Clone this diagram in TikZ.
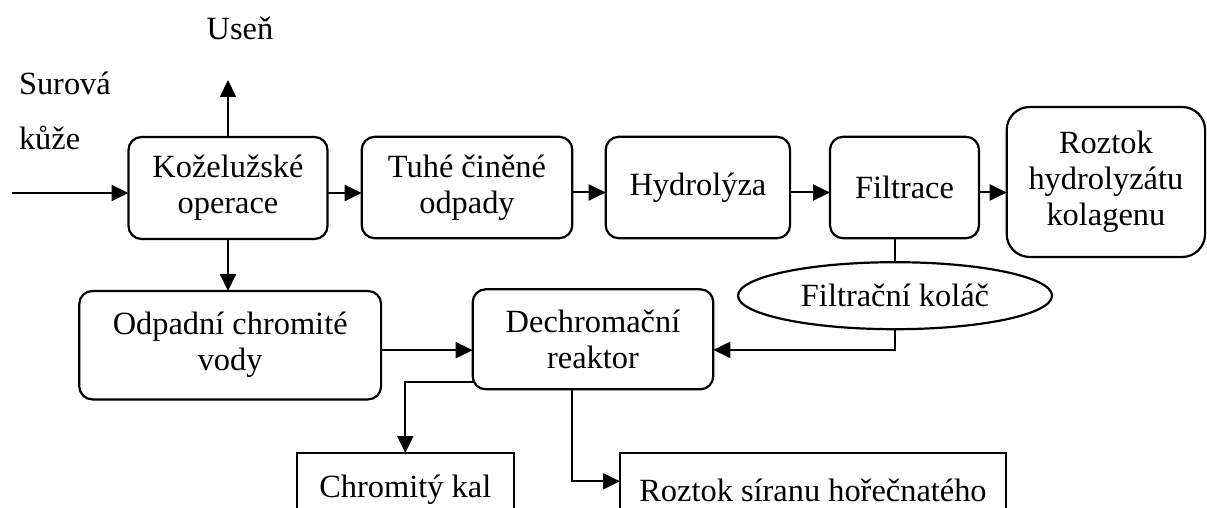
\documentclass[tikz,border=0pt]{standalone}
\usepackage{fontspec}
\setmainfont{Liberation Serif}
\usetikzlibrary{arrows.meta,shapes.geometric}

\begin{document}
\begin{tikzpicture}[x=0.5pt,y=-0.5pt,
  every node/.style={align=center, inner sep=0pt, outer sep=0pt, font=\fontsize{16.2}{18}\selectfont},
  box/.style={draw, line width=1.1pt, rounded corners=6.5pt},
  sqbox/.style={draw, line width=1.1pt},
  arr/.style={-{Triangle[length=8.5pt,width=8pt]}, line width=1pt}]
\useasboundingbox (0,0) rectangle (1207,508);
\clip (0,0) rectangle (1207,508);

\node[anchor=base] (usen) at (240,40) {Useň};
\node[anchor=base west] (surova) at (19,95) {Surová};
\node[anchor=base west] (kuze) at (19,150) {kůže};

\node[box, minimum width=99.5pt, minimum height=51pt] (koz) at (228,188) {Koželužské\\operace};
\node[box, minimum width=105.3pt, minimum height=50.7pt] (tuhe) at (467,187.5) {Tuhé činěné\\odpady};
\node[box, minimum width=92.2pt, minimum height=50.7pt] (hydro) at (697.9,187.5) {Hydrolýza};
\node[box, minimum width=74.5pt, minimum height=50.7pt] (filtr) at (904.5,187.5) {Filtrace};
\node[box, rounded corners=11.5pt, minimum width=99.2pt, minimum height=75pt] (roztok) at (1105.9,182) {Roztok\\hydrolyzátu\\kolagenu};
\node[draw, ellipse, line width=1.1pt, minimum width=157pt, minimum height=33.5pt] (kolac) at (895,295.7) {Filtrační koláč};
\node[box, minimum width=150.9pt, minimum height=54.2pt] (odpad) at (230.2,345.2) {Odpadní chromité\\vody};
\node[box, minimum width=120.3pt, minimum height=50pt] (dechrom) at (593,339.3) {Dechromační\\reaktor};
\node[sqbox, minimum width=108.3pt, minimum height=37pt] (kal) at (405.3,490) {Chromitý kal};
\node[sqbox, minimum width=193pt, minimum height=37pt] (siran) at (813,490) {Roztok síranu hořečnatého};

\coordinate (vstup) at (11.7,193);
\coordinate (usenpt) at (228,80);

\draw[arr] (vstup) -- (vstup -| koz.west);
\draw[arr] (koz.north) -- (usenpt);
\draw[arr] ([yshift=-2.5pt]koz.east) -- ([yshift=-2.5pt]koz.east -| tuhe.west);
\draw[arr] ([yshift=-2.5pt]tuhe.east) -- ([yshift=-2.5pt]tuhe.east -| hydro.west);
\draw[arr] ([yshift=-2.5pt]hydro.east) -- ([yshift=-2.5pt]hydro.east -| filtr.west);
\draw[arr] ([yshift=-2.5pt]filtr.east) -- ([yshift=-2.5pt]filtr.east -| roztok.west);
\draw[arr] (koz.south) -- (koz.south |- odpad.north);
\draw[line width=1pt] (kolac.north) -- (kolac.north |- filtr.south);
\draw[arr] (kolac.south) |- ([yshift=-5.3pt]dechrom.east);
\draw[arr] ([yshift=-2.5pt]odpad.east) -- ([yshift=-2.5pt]odpad.east -| dechrom.west);
\draw[arr] ([yshift=-21.2pt]dechrom.west) -| (kal.north);
\draw[arr] ([xshift=-10.35pt]dechrom.south) |- ([yshift=4.35pt]siran.west);
\end{tikzpicture}
\end{document}
